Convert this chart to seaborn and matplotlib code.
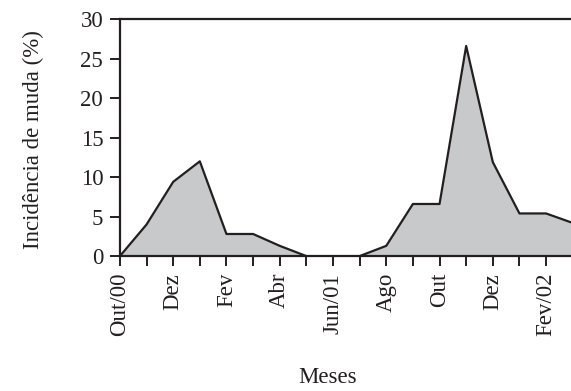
import matplotlib
matplotlib.use("Agg")
import matplotlib.pyplot as plt
import seaborn as sns
import pandas as pd

# Monthly moult incidence, Oct/2000 to Mar/2002
months = ["Out/00", "Nov", "Dez", "Jan", "Fev", "Mar", "Abr", "Mai", "Jun/01",
          "Jul", "Ago", "Set", "Out", "Nov", "Dez", "Jan", "Fev/02", "Mar"]
incidence = [0.0, 4.0, 9.4, 12.0, 2.8, 2.8, 1.3, 0.0, 0.0,
             0.0, 1.3, 6.6, 6.6, 26.6, 11.9, 5.4, 5.4, 4.2]
yticks = [0, 5, 10, 15, 20, 25, 30]

df = pd.DataFrame({"pos": range(len(months)), "mes": months, "inc": incidence})

sns.set_theme(style="ticks")
plt.rcParams["font.family"] = ["Liberation Serif", "DejaVu Serif"]
ink = "#231f20"
fs = 16.5

fig = plt.figure(figsize=(5.71, 3.91), dpi=100)
ax = fig.add_axes([0.210, 0.345, 0.793, 0.606])

ax.fill_between(df["pos"], df["inc"], 0, color="#c8c9cb", linewidth=0, zorder=1)
sns.lineplot(data=df, x="pos", y="inc", ax=ax, color=ink, linewidth=1.6, zorder=2)

ax.set_xlim(0, len(months) - 1)
ax.set_ylim(0, 30)
ax.set_xticks(df["pos"])
ax.set_xticklabels([m if i % 2 == 0 else "" for i, m in enumerate(months)],
                   rotation=90, fontsize=fs, color=ink)
ax.set_yticks(yticks)
ax.set_yticklabels([str(v) for v in yticks], fontsize=fs, color=ink)
ax.tick_params(axis="both", direction="out", length=7, width=1.4, color=ink)
ax.tick_params(axis="x", pad=5)
ax.tick_params(axis="y", pad=5)

for side in ["left", "bottom", "top"]:
    ax.spines[side].set_linewidth(1.6)
    ax.spines[side].set_color(ink)
ax.spines["right"].set_visible(False)

ax.set_xlabel("Meses", fontsize=fs, color=ink)
ax.set_ylabel("Incidência de muda (%)", fontsize=fs, color=ink)
ax.xaxis.set_label_coords(0.459, -0.47)
ax.yaxis.set_label_coords(-0.168, 0.49)

fig.savefig("out.png", dpi=100)
